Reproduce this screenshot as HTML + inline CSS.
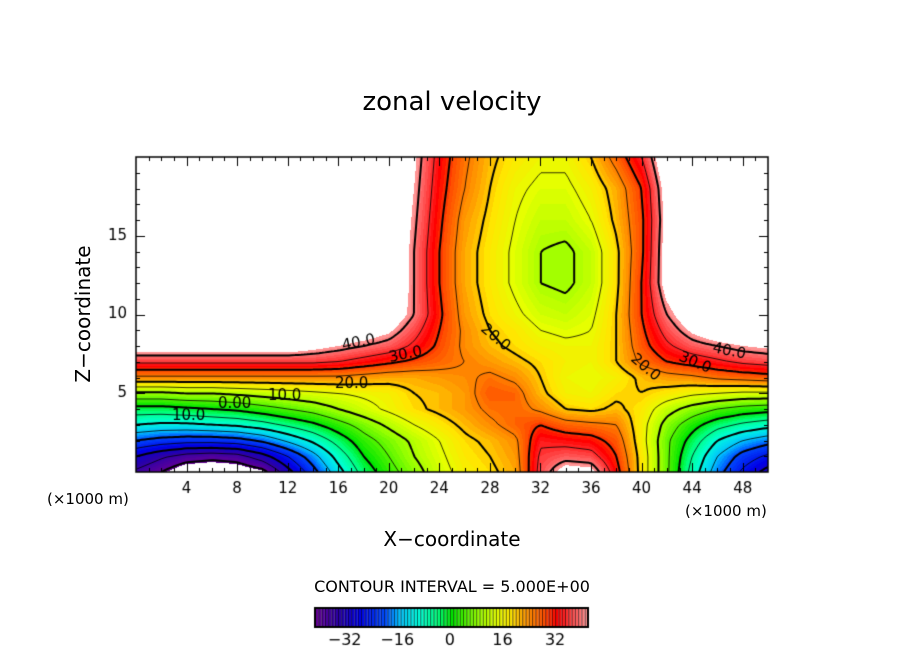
<!DOCTYPE html>
<html><head><meta charset="utf-8"><style>
body{margin:0;background:#fff;}
#wrap{position:relative;width:904px;height:654px;overflow:hidden;font-family:"DejaVu Sans","Liberation Sans",sans-serif;}
.t{position:absolute;white-space:nowrap;color:#000;}
</style></head><body>
<div id="wrap">
<div class="t" style="left:0;width:904px;text-align:center;top:87px;font-size:26px;">zonal velocity</div>
<canvas id="cv" width="904" height="654" style="position:absolute;left:0;top:0"></canvas>
<div class="t" style="left:0;width:904px;text-align:center;top:527px;font-size:20px;">X−coordinate</div>
<div class="t" style="left:-17px;top:302px;font-size:20px;transform:rotate(-90deg);width:200px;text-align:center;">Z−coordinate</div>
<div class="t" style="left:47px;top:490px;font-size:15px;">(×1000 m)</div>
<div class="t" style="left:685px;top:502px;font-size:15px;">(×1000 m)</div>
<div class="t" style="left:0;width:904px;text-align:center;top:577px;font-size:16px;">CONTOUR INTERVAL = 5.000E+00</div>
</div>
<script>
const xs=[0,2,4,6,8,10,12,14,16,18,20,22,24,26,28,30,32,34,36,38,40,42,44,46,48,50];
const zs=[0,1,2,3,4,5,6,7,8,9,10,12,14,16,18,20];
const field=[
[-36,-40,-45,-46,-45,-42,-32,-22,-12,-3,3,8,13,17,19,22,37,45,44,32,18,6,-7,-18,-26,-32],
[-30,-34,-37,-38,-37,-32,-25,-17,-8,0,5,10,14,18,20,23,36,38,37,30,18,6,-5,-15,-22,-26],
[-20,-22,-23,-23,-22,-19,-14,-9,-3,3,7,11,15,19,21,24,34,33,32,28,17,6,-2,-10,-15,-18],
[-10,-11,-11,-10,-9,-7,-4,-1,3,7,11,15,18,21,24,27,30,27,26,25,17,8,2,-3,-6,-8],
[-2,-2,-1,0,1,3,5,7,10,13,16,19,21,23,26,27,24,20,19,21,18,12,8,5,3,2],
[9,9,10,10,11,12,13,14,15,16,17,20,21,23,28,27,21,17,16,19,20,18,16,15,14,14],
[24,24,24,24,24,24,24,24,24,23,22,22,23,24,26,24,20,16,15,17,21,23,24,26,27,28],
[36,36,36,36,36,36,36,36,35,33,31,29,27,25,23,21,19,17,16,20,26,30,32,34,36,37],
[46,46,46,46,46,46,46,44,42,40,38,34,29,24,21,19,17,16,16,20,28,34,38,40,42,43],
[50,50,50,50,50,50,50,50,48,46,43,37,30,24,20,18,15,14,15,20,29,37,43,47,50,50],
[50,50,50,50,50,50,50,50,50,50,47,40,31,23,19,16,13,12,14,20,30,40,47,50,50,50],
[50,50,50,50,50,50,50,50,50,50,50,40,30,22,18,14,10,9,12,19,30,45,50,50,50,50],
[50,50,50,50,50,50,50,50,50,50,50,40,30,22,18,14,10,9,12,19,29,45,50,50,50,50],
[50,50,50,50,50,50,50,50,50,50,50,41,31,23,19,15,12,12,15,21,29,44,50,50,50,50],
[50,50,50,50,50,50,50,50,50,50,50,42,32,25,20,16,14,14,17,22,30,45,50,50,50,50],
[50,50,50,50,50,50,50,50,50,50,50,43,33,26,21,18,16,16,20,27,35,48,50,50,50,50]];
const xTicks=[4,8,12,16,20,24,28,32,36,40,44,48];
const zTicks=[5,10,15];
const cbTicks=[-32,-16,0,16,32];
const cbMin=-41, cbMax=42;
const L=136,R=768,T=157,B=472;
const X=v=>L+(v-0)/(50-0)*(R-L);
const Z=v=>B-(v-0)/(20-0)*(B-T);
const stops=[[-41,100,0,150],[-34,40,0,170],[-28,0,0,230],[-20,0,80,255],[-16,0,190,255],[-10,0,255,220],[-4,0,255,120],[0,0,230,0],[8,150,255,0],[14,230,255,0],[18,255,230,0],[22,255,160,0],[28,255,80,0],[32,255,0,0],[37,255,80,80],[42,255,165,165]];
function cmap(v){
  if(v<cbMin||v>cbMax)return [255,255,255];
  v=Math.floor(v);
  for(let i=0;i<stops.length-1;i++){const a=stops[i],b=stops[i+1];
    if(v<=b[0]){const t=(v-a[0])/(b[0]-a[0]);return [a[1]+(b[1]-a[1])*t,a[2]+(b[2]-a[2])*t,a[3]+(b[3]-a[3])*t];}}
  const s=stops[stops.length-1];return [s[1],s[2],s[3]];
}
function idx(arr,v){let i=0;while(i<arr.length-2&&v>arr[i+1])i++;return [i,(v-arr[i])/(arr[i+1]-arr[i])];}
function f(x,z){const [i,tx]=idx(xs,x),[j,tz]=idx(zs,z);
  const a=field[j][i],b=field[j][i+1],c=field[j+1][i],d=field[j+1][i+1];
  return a*(1-tx)*(1-tz)+b*tx*(1-tz)+c*(1-tx)*tz+d*tx*tz;}
const cv=document.getElementById('cv'),ctx=cv.getContext('2d');
const W=R-L,H=B-T;const img=ctx.createImageData(W,H);
for(let py=0;py<H;py++)for(let px=0;px<W;px++){
  const x=(px+0.5)/W*50,z=(H-py-0.5)/H*20;const c=cmap(f(x,z));const k=(py*W+px)*4;
  img.data[k]=c[0];img.data[k+1]=c[1];img.data[k+2]=c[2];img.data[k+3]=255;}
ctx.putImageData(img,L,T);
const st=3,nx=Math.ceil(W/st),nz=Math.ceil(H/st);const g=[];
for(let j=0;j<=nz;j++){g.push([]);for(let i=0;i<=nx;i++){const px=Math.min(i*st,W),py=Math.min(j*st,H);g[j].push(f(px/W*50,20-py/H*20));}}
ctx.save();ctx.beginPath();ctx.rect(L,T,W,H);ctx.clip();
for(let lv=-40;lv<=40;lv+=5){
  ctx.beginPath();
  for(let j=0;j<nz;j++)for(let i=0;i<nx;i++){
    const v=[g[j][i],g[j][i+1],g[j+1][i+1],g[j+1][i]];
    const p=[[i,j],[i+1,j],[i+1,j+1],[i,j+1]];const pts=[];
    for(let e=0;e<4;e++){const a=v[e],b=v[(e+1)%4];
      if((a<lv)!==(b<lv)){const t=(lv-a)/(b-a);const pa=p[e],pb=p[(e+1)%4];
        pts.push([L+(pa[0]+(pb[0]-pa[0])*t)*st,T+(pa[1]+(pb[1]-pa[1])*t)*st]);}}
    if(pts.length>=2){ctx.moveTo(pts[0][0],pts[0][1]);ctx.lineTo(pts[1][0],pts[1][1]);}
    if(pts.length===4){ctx.moveTo(pts[2][0],pts[2][1]);ctx.lineTo(pts[3][0],pts[3][1]);}
  }
  ctx.strokeStyle='#000';ctx.lineWidth=(lv%10===0)?2:0.8;
  ctx.setLineDash(lv<0?[5,4]:[]);ctx.stroke();
}
ctx.restore();ctx.setLineDash([]);
ctx.font='15px "DejaVu Sans",sans-serif';
[['40.0',343,350,-0.2],['30.0',390,362,-0.2],['20.0',335,388,0],['10.0',268,400,0],['0.00',218,408,0],['10.0',172,420,0],['20.0',480,330,0.7],['20.0',630,360,0.7],['30.0',678,360,0.4],['40.0',712,352,0.2]].forEach(l=>{
  ctx.save();ctx.translate(l[1],l[2]);ctx.rotate(l[3]);ctx.fillStyle='#000';ctx.fillText(l[0],0,0);ctx.restore();});
ctx.strokeStyle='#000';ctx.lineWidth=1.5;ctx.strokeRect(L,T,W,H);ctx.lineWidth=1;
ctx.beginPath();
for(let v=1;v<50;v++){const len=v%4===0?9:4;const x=Math.round(X(v))+0.5;ctx.moveTo(x,B);ctx.lineTo(x,B-len);ctx.moveTo(x,T);ctx.lineTo(x,T+len);}
for(let v=1;v<20;v++){const len=v%5===0?9:4;const y=Math.round(Z(v))+0.5;ctx.moveTo(L,y);ctx.lineTo(L+len,y);ctx.moveTo(R,y);ctx.lineTo(R-len,y);}
ctx.stroke();
ctx.fillStyle='#000';ctx.font='15px "DejaVu Sans",sans-serif';ctx.textAlign='center';ctx.textBaseline='top';
xTicks.forEach(v=>ctx.fillText(String(v),X(v),482));
ctx.textAlign='right';ctx.textBaseline='middle';
zTicks.forEach(v=>ctx.fillText(String(v),127,Z(v)));
const cL=315,cR=588,cT=608,cB=627;
const CX=v=>cL+(v-cbMin)/(cbMax-cbMin)*(cR-cL);
for(let v=cbMin;v<cbMax;v++){const c=cmap(v+0.5);ctx.fillStyle=`rgb(${c[0]|0},${c[1]|0},${c[2]|0})`;ctx.fillRect(CX(v),cT,CX(v+1)-CX(v),cB-cT);
  ctx.fillStyle='rgba(0,0,0,0.6)';ctx.fillRect(CX(v),cT,1,cB-cT);}
ctx.strokeStyle='#000';ctx.lineWidth=2;ctx.strokeRect(cL,cT,cR-cL,cB-cT);
ctx.fillStyle='#000';ctx.textAlign='center';ctx.textBaseline='top';
ctx.font='16px "DejaVu Sans",sans-serif';
cbTicks.forEach(v=>ctx.fillText(v<0?'−'+(-v):String(v),CX(v),633));
</script>
</body></html>
